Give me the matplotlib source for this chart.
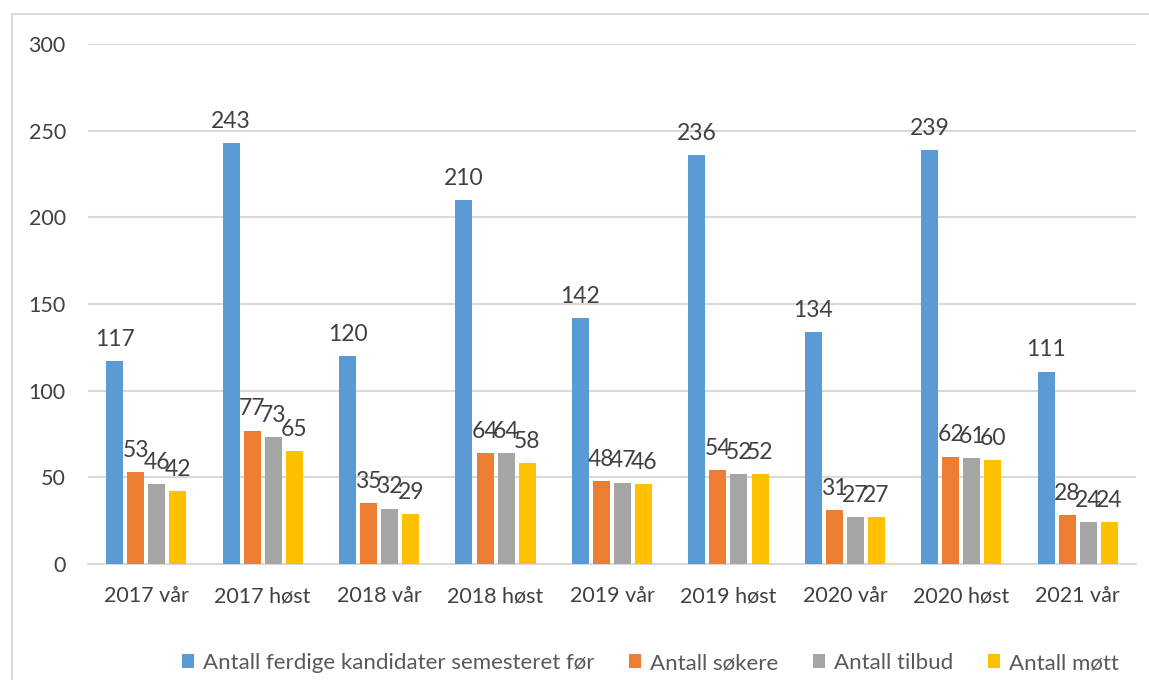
import numpy as np
import matplotlib
matplotlib.use("Agg")
import matplotlib.pyplot as plt
from matplotlib.patches import Rectangle, Patch

plt.rcParams['font.family'] = ['Lato', 'DejaVu Sans']

categories = ['2017 vår', '2017 høst', '2018 vår', '2018 høst', '2019 vår',
              '2019 høst', '2020 vår', '2020 høst', '2021 vår']
ferdige = [117, 243, 120, 210, 142, 236, 134, 239, 111]
sokere = [53, 77, 35, 64, 48, 54, 31, 62, 28]
tilbud = [46, 73, 32, 64, 47, 52, 27, 61, 24]
mott = [42, 65, 29, 58, 46, 52, 27, 60, 24]

series = [
    ('Antall ferdige kandidater semesteret før', ferdige, '#5b9bd5'),
    ('Antall søkere', sokere, '#ed7d31'),
    ('Antall tilbud', tilbud, '#a5a5a5'),
    ('Antall møtt', mott, '#ffc000'),
]

W, H = 1149, 680
fig = plt.figure(figsize=(W / 100, H / 100), dpi=100)
ax = fig.add_axes([88 / W, 1 - 564 / H, (1136 - 88) / W, (564 - 44) / H])

# chart area border (cut off at right/bottom like the original)
fig.patches.append(Rectangle((12 / W, -0.1), 1.2, 1 - 14 / H + 0.1,
                             transform=fig.transFigure, fill=False,
                             edgecolor='#d9d9d9', linewidth=1.5))

text_col = '#404040'
x = np.arange(len(categories))
slot = 0.181
bw = 0.146
for i, (name, vals, col) in enumerate(series):
    pos = x + (i - 1.5) * slot
    bars = ax.bar(pos, vals, width=bw, color=col, label=name, zorder=3)
    for b, v in zip(bars, vals):
        ax.annotate(str(v), (b.get_x() + b.get_width() / 2, v),
                    xytext=(0, 8), textcoords='offset points',
                    ha='center', va='bottom', fontsize=16.5, color=text_col)

ax.set_xlim(-0.5, len(categories) - 0.5)
ax.set_ylim(0, 300)
ax.set_yticks(range(0, 301, 50))
ax.yaxis.grid(True, color='#d9d9d9', linewidth=1.5, zorder=0)
ax.set_axisbelow(True)
for s in ['top', 'right', 'left']:
    ax.spines[s].set_visible(False)
ax.spines['bottom'].set_color('#d9d9d9')
ax.spines['bottom'].set_linewidth(1.5)
ax.set_xticks(x)
ax.set_xticklabels(categories)
ax.tick_params(axis='both', length=0, labelsize=15.5, colors=text_col)
ax.tick_params(axis='x', pad=16)
ax.tick_params(axis='y', pad=16)

handles = [Patch(facecolor=c, label=n) for n, _, c in series]
fig.legend(handles=handles, loc='center left', ncol=4,
           bbox_to_anchor=(182 / W, 1 - 663 / H), frameon=False,
           fontsize=16, handlelength=0.55, handleheight=0.55,
           handletextpad=0.4, columnspacing=1.55, labelcolor='#595959',
           borderaxespad=0, borderpad=0)

fig.savefig('out.png', dpi=100)
